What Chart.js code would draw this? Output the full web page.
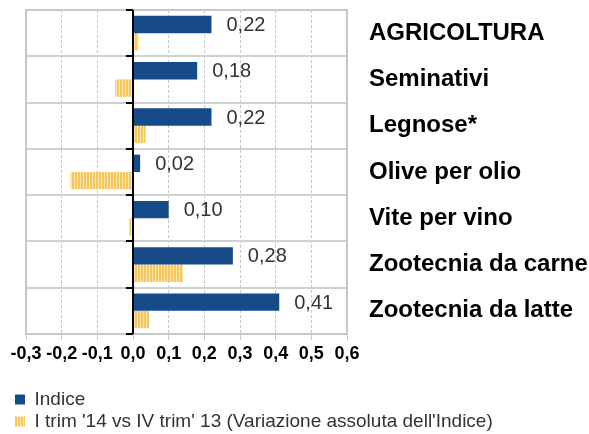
<!DOCTYPE html>
<html>
<head>
<meta charset="utf-8">
<script src="https://cdn.jsdelivr.net/npm/chart.js@4/dist/chart.umd.min.js"></script>
<style>
  body { margin: 0; background: #fff; }
  #wrap { width: 589px; height: 434px; }
</style>
</head>
<body>
<div id="wrap"><canvas id="chart"></canvas></div>
<script>
const categories = ['AGRICOLTURA', 'Seminativi', 'Legnose*', 'Olive per olio', 'Vite per vino', 'Zootecnia da carne', 'Zootecnia da latte'];
const indice = [0.22, 0.18, 0.22, 0.02, 0.10, 0.28, 0.41];
const variazione = [0.015, -0.05, 0.035, -0.175, -0.01, 0.14, 0.045];
const xTicks = [-0.3, -0.2, -0.1, 0.0, 0.1, 0.2, 0.3, 0.4, 0.5, 0.6];

const seriesNames = ['Indice', "I trim '14 vs IV trim' 13 (Variazione assoluta dell'Indice)"];

Chart.defaults.font.family = '"Liberation Sans", Arial, sans-serif';

// striped yellow fill
function stripes() {
    const c = document.createElement('canvas');
    c.width = 3; c.height = 1;
    const g = c.getContext('2d');
    g.fillStyle = '#f7c65a';
    g.fillRect(0, 0, 2, 1);
    g.fillStyle = '#fce8b4';
    g.fillRect(2, 0, 1, 1);
    return g.createPattern(c, 'repeat');
}

const fmt = v => v.toFixed(2).replace('.', ',');

// legend in two rows, one entry per row
const LEGEND_W = 530;
const legendRows = {
    id: 'legendRows',
    beforeUpdate(chart) {
        const lg = chart.legend;
        if (lg && !lg._rowsPatched) {
            const up = lg.update, dr = lg.draw;
            lg.update = function(w, h, m) { return up.call(this, Math.min(w, LEGEND_W), h, m); };
            lg.draw = function() {
                const r = this.right;
                this.right = Math.min(r, this.left + LEGEND_W);
                dr.call(this);
                this.right = r;
            };
            lg._rowsPatched = true;
        }
    }
};

const frame = {
    id: 'frame',
    afterDatasetsDraw(chart) {
        const { ctx, chartArea: a, scales } = chart;
        ctx.save();
        // outer border
        ctx.strokeStyle = '#c8c8c8';
        ctx.lineWidth = 2;
        ctx.strokeRect(a.left, a.top, a.right - a.left, a.bottom - a.top);
        // zero axis
        const x0 = scales.x.getPixelForValue(0);
        ctx.strokeStyle = '#000';
        ctx.lineWidth = 2;
        ctx.beginPath();
        ctx.moveTo(x0, a.top);
        ctx.lineTo(x0, a.bottom);
        const step = (a.bottom - a.top) / categories.length;
        for (let i = 0; i <= categories.length; i++) {
            const y = Math.round(a.top + i * step);
            ctx.moveTo(x0 - 7, y);
            ctx.lineTo(x0, y);
        }
        ctx.stroke();
        // value labels
        ctx.fillStyle = '#333';
        ctx.font = '20px "Liberation Sans", Arial, sans-serif';
        ctx.textBaseline = 'middle';
        chart.getDatasetMeta(0).data.forEach((bar, i) => {
            ctx.fillText(fmt(indice[i]), bar.x + 15, bar.y + 1);
        });
        ctx.restore();
    }
};

new Chart(document.getElementById('chart'), {
    type: 'bar',
    data: {
        labels: categories,
        datasets: [{
            label: seriesNames[0],
            data: indice,
            backgroundColor: '#174a88',
            borderWidth: 0,
        }, {
            label: seriesNames[1],
            data: variazione,
            backgroundColor: stripes(),
            borderWidth: 0,
        }]
    },
    options: {
        indexAxis: 'y',
        responsive: true,
        maintainAspectRatio: false,
        animation: false,
        layout: { padding: { top: 10, left: 12, bottom: -7, right: 0 } },
        datasets: {
            bar: { categoryPercentage: 0.75, barPercentage: 1.0 }
        },
        scales: {
            x: {
                min: -0.3,
                max: 0.6,
                afterBuildTicks: s => { s.ticks = xTicks.map(v => ({ value: v })); },
                afterFit: s => { s.height = 53; s.paddingLeft = 26; s.paddingRight = 0; },
                grid: { color: '#c8c8c8', lineWidth: 1, tickLength: 6 },
                border: { display: false, dash: [3, 2] },
                ticks: {
                    color: '#000',
                    font: { size: 18, weight: 'bold' },
                    padding: 3,
                    maxRotation: 0,
                    callback: v => v.toFixed(1).replace('.', ',')
                }
            },
            y: {
                position: 'right',
                offset: true,
                afterFit: s => { s.width = 242; s.paddingTop = 0; s.paddingBottom = 0; },
                grid: { color: '#d0d0d0', lineWidth: 2, drawTicks: false, offset: true },
                border: { display: false },
                ticks: {
                    color: '#000',
                    font: { size: 24, weight: 'bold' },
                    padding: 22
                }
            }
        },
        plugins: {
            legend: {
                position: 'bottom',
                align: 'start',
                labels: {
                    color: '#333',
                    font: { size: 19 },
                    boxWidth: 10,
                    boxHeight: 10,
                    padding: 3
                }
            },
            tooltip: { enabled: false }
        }
    },
    plugins: [legendRows, frame]
});
</script>
</body>
</html>
